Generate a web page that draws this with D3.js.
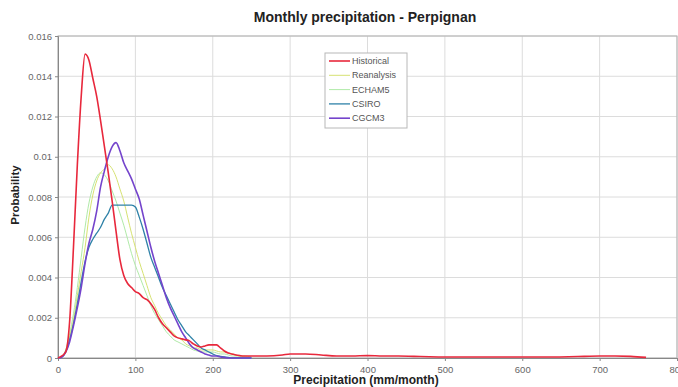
<!DOCTYPE html>
<html>
<head>
<meta charset="utf-8">
<script src="https://cdn.jsdelivr.net/npm/d3@7"></script>
<style>
  html, body { margin: 0; padding: 0; background: #fff; }
  svg { display: block; font-family: "Liberation Sans", Arial, sans-serif; }
</style>
</head>
<body>
<svg id="chart" width="678" height="387"></svg>
<script>
// ---- data ----
const precip = d3.range(0, 255, 5); // 0..250 mm/month, step 5
const historical = [0, 0.0001, 0.0003, 0.0018, 0.0055, 0.0096, 0.0130, 0.0151, 0.0148, 0.0139,
  0.0130, 0.0118, 0.0105, 0.0092, 0.0078, 0.0063, 0.0049, 0.0041, 0.0037, 0.0035,
  0.0033, 0.0032, 0.0030, 0.0029, 0.0027, 0.0024, 0.0020, 0.0017, 0.0015, 0.0013,
  0.0011, 0.0010, 0.00095, 0.0009, 0.00085, 0.0007, 0.0006, 0.00055, 0.0006, 0.00065,
  0.00065, 0.00065, 0.0005, 0.00035, 0.00025, 0.0002, 0.00015, 0.00012, 0.0001, 0.0001, 0.0001];
const historicalTailX = [270, 290, 300, 320, 340, 360, 380, 400, 420, 440, 460, 480, 500, 520, 540,
  560, 580, 600, 620, 640, 660, 680, 700, 720, 740, 760];
const historicalTailY = [0.0001, 0.00015, 0.0002, 0.0002, 0.00015, 0.0001, 0.0001, 0.00012, 0.0001, 0.0001,
  0.00008, 0.00006, 0.00005, 0.00005, 0.00005, 0.00005, 0.00005, 0.00005, 0.00005, 0.00005,
  0.00006, 0.00008, 0.0001, 0.0001, 0.00008, 0.00003];
const reanalysis = [0, 0.00005, 0.0004, 0.0011, 0.0019, 0.0031, 0.0043, 0.0055, 0.0070, 0.0081,
  0.0088, 0.0092, 0.0094, 0.0096, 0.0094, 0.0090, 0.0084, 0.0078, 0.0070, 0.0062,
  0.0055, 0.0048, 0.0042, 0.0036, 0.0030, 0.0026, 0.0022, 0.0019, 0.0016, 0.0014,
  0.0012, 0.0010, 0.0009, 0.0007, 0.0006, 0.0005, 0.0005, 0.0004, 0.0004, 0.0004,
  0.0004, 0.00035, 0.0003, 0.0003, 0.00025, 0.0002, 0.00015, 0.0001, 0.0001, 0.00008, 0.00005];
const echam5 = [0, 0.00005, 0.0004, 0.0012, 0.0022, 0.0035, 0.0050, 0.0065, 0.0077, 0.0085,
  0.0090, 0.0092, 0.0091, 0.0088, 0.0083, 0.0078, 0.0072, 0.0066, 0.0059, 0.0052,
  0.0046, 0.0041, 0.0036, 0.0031, 0.0026, 0.0022, 0.0019, 0.0016, 0.0013, 0.0011,
  0.0009, 0.0008, 0.0007, 0.0006, 0.0005, 0.0004, 0.00035, 0.0003, 0.0003, 0.0003,
  0.0003, 0.00025, 0.0002, 0.0002, 0.00015, 0.0001, 0.0001, 0.00008, 0.00005, 0.00003, 0];
const csiro = [0, 0.00005, 0.0003, 0.0009, 0.0017, 0.0027, 0.0038, 0.0048, 0.0055, 0.0059,
  0.0062, 0.0065, 0.0069, 0.0072, 0.0076, 0.0076, 0.0076, 0.0076, 0.0076, 0.0076,
  0.0075, 0.0070, 0.0064, 0.0057, 0.0050, 0.0045, 0.0040, 0.0035, 0.0031, 0.0027,
  0.0023, 0.0019, 0.0016, 0.0013, 0.0011, 0.0009, 0.0007, 0.0005, 0.0004, 0.0003,
  0.0002, 0.00012, 0.00008, 0.00005, 0.00003, 0, 0, 0, 0, 0, 0];
const cgcm3 = [0, 0.00005, 0.0003, 0.0008, 0.0016, 0.0025, 0.0035, 0.0047, 0.0057, 0.0064,
  0.0073, 0.0085, 0.0093, 0.0100, 0.0105, 0.0107, 0.0103, 0.0097, 0.0093, 0.0089,
  0.0084, 0.0079, 0.0071, 0.0063, 0.0055, 0.0048, 0.0042, 0.0036, 0.0030, 0.0025,
  0.0021, 0.0017, 0.0013, 0.0010, 0.0007, 0.0005, 0.0004, 0.0003, 0.0002, 0.00015,
  0.0001, 0.0001, 0.00005, 0.00003, 0, 0, 0, 0, 0, 0, 0];
const seriesNames = ["Historical", "Reanalysis", "ECHAM5", "CSIRO", "CGCM3"];
const seriesColors = ["#e8283c", "#d6e272", "#b0eaa8", "#2f82a8", "#7444cc"];
const xTicks = [0, 100, 200, 300, 400, 500, 600, 700, 800];
const yTicks = [0, 0.002, 0.004, 0.006, 0.008, 0.01, 0.012, 0.014, 0.016];

// ---- chart ----
const svg = d3.select("#chart");
const L = 58, R = 677, T = 36, B = 358;
const x = d3.scaleLinear().domain([0, 800]).range([L, R]);
const y = d3.scaleLinear().domain([0, 0.016]).range([B, T]);

// grid
svg.append("g").selectAll("line").data(xTicks).join("line")
  .attr("x1", d => x(d)).attr("x2", d => x(d)).attr("y1", T).attr("y2", B)
  .attr("stroke", "#dcdcdc").attr("stroke-width", 1);
svg.append("g").selectAll("line").data(yTicks).join("line")
  .attr("x1", L).attr("x2", R).attr("y1", d => y(d)).attr("y2", d => y(d))
  .attr("stroke", "#dcdcdc").attr("stroke-width", 1);

// frame
svg.append("rect").attr("x", L).attr("y", T).attr("width", R - L).attr("height", B - T)
  .attr("fill", "none").attr("stroke", "#b0b0b0").attr("stroke-width", 1);

// axes
const xAxis = d3.axisBottom(x).tickValues(xTicks).tickSize(3).tickFormat(d3.format("d"));
const yAxis = d3.axisLeft(y).tickValues(yTicks).tickSize(3).tickFormat(d => d === 0 ? "0" : String(+d.toFixed(3)));
const gx = svg.append("g").attr("transform", `translate(0,${B})`).call(xAxis);
const gy = svg.append("g").attr("transform", `translate(${L},0)`).call(yAxis);
[gx, gy].forEach(g => {
  g.select(".domain").attr("stroke", "#888");
  g.selectAll(".tick line").attr("stroke", "#888");
  g.selectAll(".tick text").attr("fill", "#666").style("font-size", "9.5px")
    .style("font-family", "'Liberation Sans', Arial, sans-serif");
});
gx.selectAll(".tick text").attr("dy", "0.9em");

// series
const allSeries = [
  { xs: precip.concat(historicalTailX), ys: historical.concat(historicalTailY) },
  { xs: precip, ys: reanalysis },
  { xs: precip, ys: echam5 },
  { xs: precip, ys: csiro },
  { xs: precip, ys: cgcm3 }
];
const line = d3.line().x(d => x(d[0])).y(d => y(d[1])).curve(d3.curveMonotoneX);
const widths = [1.6, 1.0, 1.0, 1.3, 1.6];
const drawOrder = [2, 1, 3, 4, 0];
drawOrder.forEach(i => {
  const s = allSeries[i];
  svg.append("path")
    .datum(s.xs.map((v, k) => [v, s.ys[k]]))
    .attr("fill", "none")
    .attr("stroke", seriesColors[i])
    .attr("stroke-width", widths[i])
    .attr("stroke-linejoin", "round")
    .attr("d", line);
});

// title & labels
svg.append("text").attr("x", 365).attr("y", 22).attr("text-anchor", "middle")
  .style("font-size", "14px").style("font-weight", "bold").attr("fill", "#222")
  .text("Monthly precipitation - Perpignan");
svg.append("text").attr("x", 366).attr("y", 384).attr("text-anchor", "middle")
  .style("font-size", "12px").style("font-weight", "bold").attr("fill", "#222")
  .text("Precipitation (mm/month)");
svg.append("text").attr("transform", "translate(19,195) rotate(-90)").attr("text-anchor", "middle")
  .style("font-size", "11.5px").style("font-weight", "bold").attr("fill", "#222")
  .text("Probability");

// legend
const lg = svg.append("g");
lg.append("rect").attr("x", 325).attr("y", 53).attr("width", 82).attr("height", 75)
  .attr("fill", "#fff").attr("stroke", "#b8b8b8");
seriesNames.forEach((n, i) => {
  const yy = 61 + i * 14.3;
  lg.append("line").attr("x1", 329).attr("x2", 350).attr("y1", yy).attr("y2", yy)
    .attr("stroke", seriesColors[i]).attr("stroke-width", widths[i]);
  lg.append("text").attr("x", 352).attr("y", yy + 3).style("font-size", "9px")
    .attr("fill", "#555").text(n);
});
</script>
</body>
</html>
